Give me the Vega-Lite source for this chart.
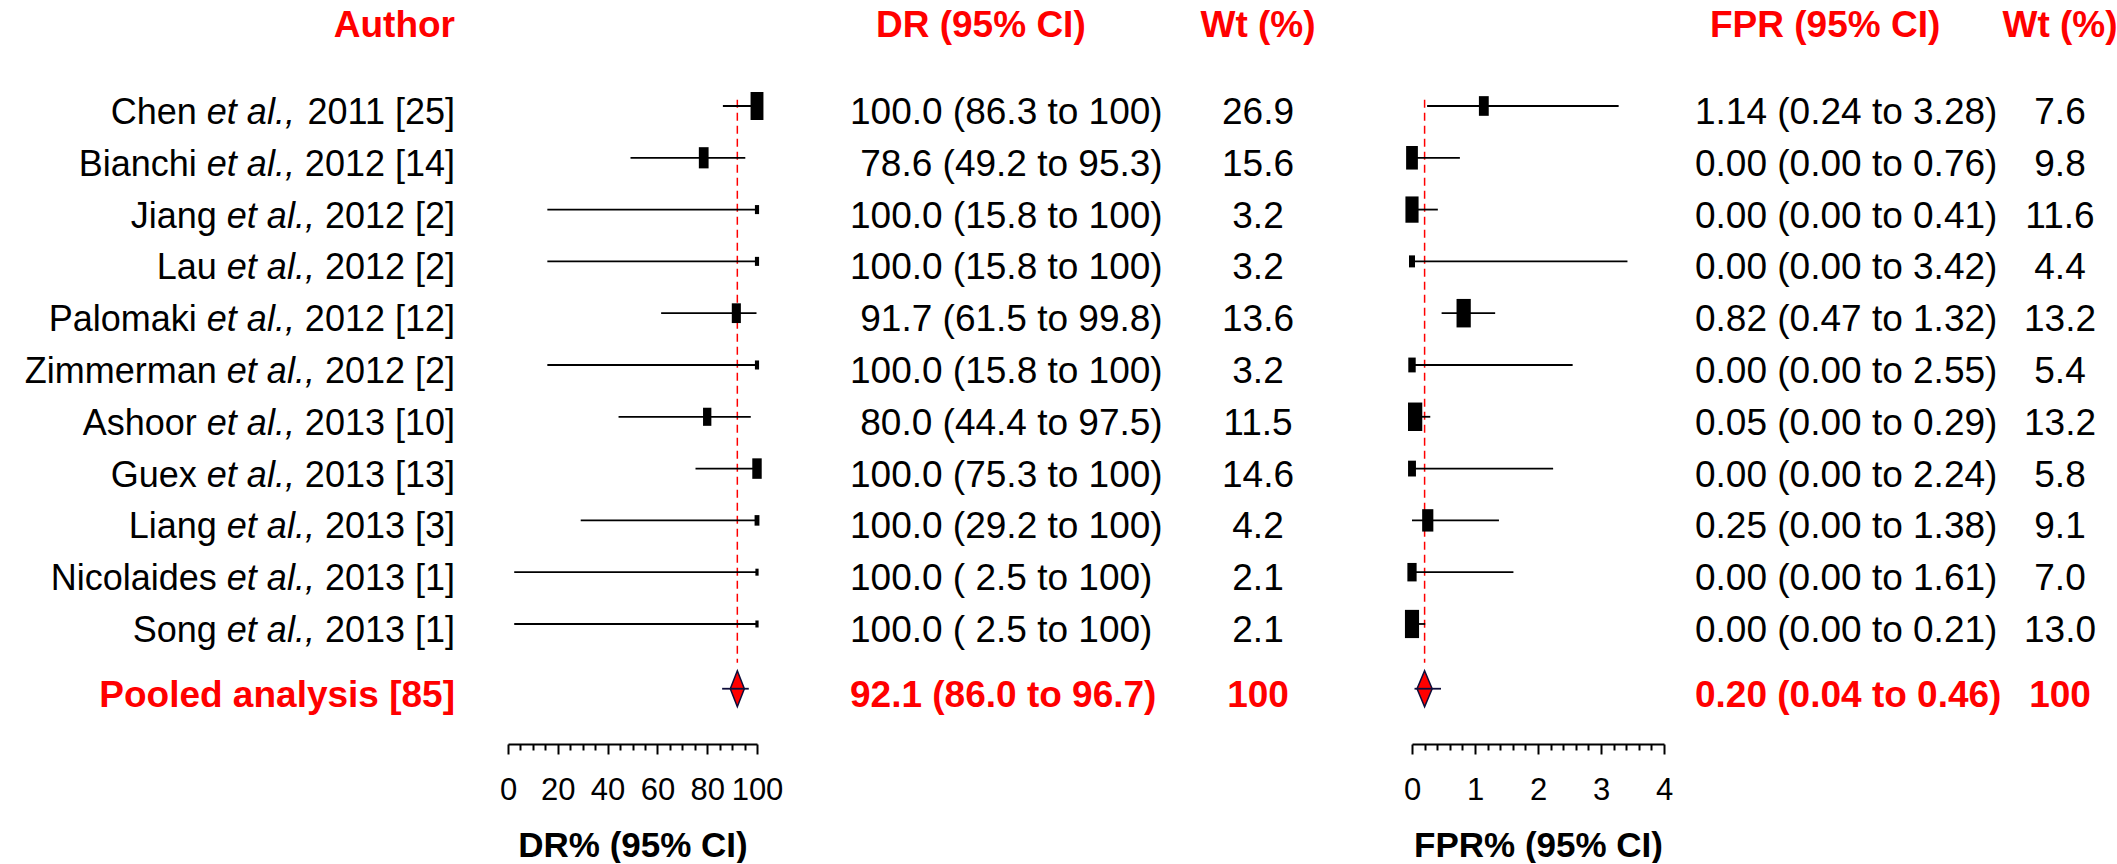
{
 "$schema": "https://vega.github.io/schema/vega-lite/v6.json",
 "padding": 0,
 "background": "white",
 "spacing": 0,
 "bounds": "flush",
 "config": {
  "view": {"stroke": null},
  "text": {"font": "Liberation Sans", "fontSize": 37, "color": "black", "baseline": "alphabetic", "dy": 18}
 },
 "resolve": {"scale": {"size": "independent"}},
 "datasets": {
  "studies": [
   {"row": 1, "name": "Chen", "cite": "2011 [25]", "ref": 25, "dr": 100, "dr_lo": 86.3, "dr_hi": 100, "dr_wt": 26.9, "dr_txt": "100.0 (86.3 to 100)", "fpr": 1.14, "fpr_lo": 0.24, "fpr_hi": 3.28, "fpr_wt": 7.6, "fpr_txt": "1.14 (0.24 to 3.28)"},
   {"row": 2, "name": "Bianchi", "cite": "2012 [14]", "ref": 14, "dr": 78.6, "dr_lo": 49.2, "dr_hi": 95.3, "dr_wt": 15.6, "dr_txt": "\u200b\u00a078.6 (49.2 to 95.3)", "fpr": 0.0, "fpr_lo": 0.0, "fpr_hi": 0.76, "fpr_wt": 9.8, "fpr_txt": "0.00 (0.00 to 0.76)"},
   {"row": 3, "name": "Jiang", "cite": "2012 [2]", "ref": 2, "dr": 100, "dr_lo": 15.8, "dr_hi": 100, "dr_wt": 3.2, "dr_txt": "100.0 (15.8 to 100)", "fpr": 0.0, "fpr_lo": 0.0, "fpr_hi": 0.41, "fpr_wt": 11.6, "fpr_txt": "0.00 (0.00 to 0.41)"},
   {"row": 4, "name": "Lau", "cite": "2012 [2]", "ref": 2, "dr": 100, "dr_lo": 15.8, "dr_hi": 100, "dr_wt": 3.2, "dr_txt": "100.0 (15.8 to 100)", "fpr": 0.0, "fpr_lo": 0.0, "fpr_hi": 3.42, "fpr_wt": 4.4, "fpr_txt": "0.00 (0.00 to 3.42)"},
   {"row": 5, "name": "Palomaki", "cite": "2012 [12]", "ref": 12, "dr": 91.7, "dr_lo": 61.5, "dr_hi": 99.8, "dr_wt": 13.6, "dr_txt": "\u200b\u00a091.7 (61.5 to 99.8)", "fpr": 0.82, "fpr_lo": 0.47, "fpr_hi": 1.32, "fpr_wt": 13.2, "fpr_txt": "0.82 (0.47 to 1.32)"},
   {"row": 6, "name": "Zimmerman", "cite": "2012 [2]", "ref": 2, "dr": 100, "dr_lo": 15.8, "dr_hi": 100, "dr_wt": 3.2, "dr_txt": "100.0 (15.8 to 100)", "fpr": 0.0, "fpr_lo": 0.0, "fpr_hi": 2.55, "fpr_wt": 5.4, "fpr_txt": "0.00 (0.00 to 2.55)"},
   {"row": 7, "name": "Ashoor", "cite": "2013 [10]", "ref": 10, "dr": 80.0, "dr_lo": 44.4, "dr_hi": 97.5, "dr_wt": 11.5, "dr_txt": "\u200b\u00a080.0 (44.4 to 97.5)", "fpr": 0.05, "fpr_lo": 0.0, "fpr_hi": 0.29, "fpr_wt": 13.2, "fpr_txt": "0.05 (0.00 to 0.29)"},
   {"row": 8, "name": "Guex", "cite": "2013 [13]", "ref": 13, "dr": 100, "dr_lo": 75.3, "dr_hi": 100, "dr_wt": 14.6, "dr_txt": "100.0 (75.3 to 100)", "fpr": 0.0, "fpr_lo": 0.0, "fpr_hi": 2.24, "fpr_wt": 5.8, "fpr_txt": "0.00 (0.00 to 2.24)"},
   {"row": 9, "name": "Liang", "cite": "2013 [3]", "ref": 3, "dr": 100, "dr_lo": 29.2, "dr_hi": 100, "dr_wt": 4.2, "dr_txt": "100.0 (29.2 to 100)", "fpr": 0.25, "fpr_lo": 0.0, "fpr_hi": 1.38, "fpr_wt": 9.1, "fpr_txt": "0.25 (0.00 to 1.38)"},
   {"row": 10, "name": "Nicolaides", "cite": "2013 [1]", "ref": 1, "dr": 100, "dr_lo": 2.5, "dr_hi": 100, "dr_wt": 2.1, "dr_txt": "100.0 ( 2.5 to 100)", "fpr": 0.0, "fpr_lo": 0.0, "fpr_hi": 1.61, "fpr_wt": 7.0, "fpr_txt": "0.00 (0.00 to 1.61)"},
   {"row": 11, "name": "Song", "cite": "2013 [1]", "ref": 1, "dr": 100, "dr_lo": 2.5, "dr_hi": 100, "dr_wt": 2.1, "dr_txt": "100.0 ( 2.5 to 100)", "fpr": 0.0, "fpr_lo": 0.0, "fpr_hi": 0.21, "fpr_wt": 13.0, "fpr_txt": "0.00 (0.00 to 0.21)"}
  ],
  "pooled": [
   {"row": 12.25, "label": "Pooled analysis [85]", "dr": 92.1, "dr_lo": 86.0, "dr_hi": 96.7, "dr_txt": "92.1 (86.0 to 96.7)", "wt": "100", "fpr": 0.20, "fpr_lo": 0.04, "fpr_hi": 0.46, "fpr_txt": "0.20 (0.04 to 0.46)"}
  ]
 },
 "hconcat": [
  {
   "width": 455, "height": 744,
   "data": {"name": "studies"},
   "layer": [
    {"data": {"values": [{"h": "Author"}]}, "mark": {"type": "text", "align": "right", "fontWeight": "bold", "color": "#ff0000"},
     "encoding": {"x": {"value": "width"}, "y": {"datum": -0.68, "type": "quantitative", "scale": {"domain": [-1.046, 13.317], "reverse": true, "nice": false, "zero": false}, "axis": null}, "text": {"field": "h"}}},
    {"mark": {"type": "text", "align": "right", "fontSize": 36},
     "encoding": {"x": {"value": "width"}, "y": {"field": "row", "type": "quantitative", "axis": null}, "text": {"field": "cite"}}},
    {"transform": [{"filter": "datum.ref >= 10"}], "mark": {"type": "text", "align": "right", "fontSize": 36, "fontStyle": "italic", "dx": -160.1},
     "encoding": {"x": {"value": "width"}, "y": {"field": "row", "type": "quantitative", "axis": null}, "text": {"value": "et al.,"}}},
    {"transform": [{"filter": "datum.ref < 10"}], "mark": {"type": "text", "align": "right", "fontSize": 36, "fontStyle": "italic", "dx": -140.1},
     "encoding": {"x": {"value": "width"}, "y": {"field": "row", "type": "quantitative", "axis": null}, "text": {"value": "et al.,"}}},
    {"transform": [{"filter": "datum.ref >= 10"}], "mark": {"type": "text", "align": "right", "fontSize": 36, "dx": -258.2},
     "encoding": {"x": {"value": "width"}, "y": {"field": "row", "type": "quantitative", "axis": null}, "text": {"field": "name"}}},
    {"transform": [{"filter": "datum.ref < 10"}], "mark": {"type": "text", "align": "right", "fontSize": 36, "dx": -238.2},
     "encoding": {"x": {"value": "width"}, "y": {"field": "row", "type": "quantitative", "axis": null}, "text": {"field": "name"}}},
    {"data": {"name": "pooled"}, "mark": {"type": "text", "align": "right", "fontWeight": "bold", "color": "#ff0000"},
     "encoding": {"x": {"value": "width"}, "y": {"field": "row", "type": "quantitative", "axis": null}, "text": {"field": "label"}}}
   ]
  },
  {"width": 53, "height": 744, "data": {"values": []}, "mark": "point"},
  {
   "width": 249, "height": 744,
   "layer": [
    {"data": {"name": "pooled"}, "mark": {"type": "rule", "color": "#ff0000", "strokeWidth": 1.5, "strokeDash": [8, 5]},
     "encoding": {
      "x": {"field": "dr", "type": "quantitative", "scale": {"domain": [0, 100], "nice": false, "zero": false},
       "axis": {"title": "DR% (95% CI)", "values": [0,5,10,15,20,25,30,35,40,45,50,55,60,65,70,75,80,85,90,95,100], "tickCount": 200,
        "labelExpr": "datum.value % 20 === 0 ? format(datum.value, 'd') : ''",
        "tickSize": {"condition": {"test": "datum.value % 20 === 0", "value": 10}, "value": 6},
        "tickColor": "black", "tickWidth": 2, "domainColor": "black", "domainWidth": 2, "grid": false,
        "labelFont": "Liberation Sans", "labelFontSize": 31, "labelColor": "black", "labelPadding": 21,
        "labelOverlap": false, "labelFlush": false, "labelBound": false,
        "titleFont": "Liberation Sans", "titleFontSize": 35, "titleFontWeight": "bold", "titleColor": "black", "titlePadding": 23}},
      "y": {"datum": 0.88, "type": "quantitative", "scale": {"domain": [-1.046, 13.317], "reverse": true, "nice": false, "zero": false}, "axis": null},
      "y2": {"datum": 11.75}}},
    {"data": {"name": "studies"}, "mark": {"type": "rule", "color": "black", "strokeWidth": 1.8},
     "encoding": {"x": {"field": "dr_lo", "type": "quantitative"}, "x2": {"field": "dr_hi"}, "y": {"field": "row", "type": "quantitative", "axis": null}}},
    {"data": {"name": "studies"}, "mark": {"type": "point", "shape": "M-0.46,-1H0.46V1H-0.46Z", "filled": true, "color": "black", "opacity": 1},
     "encoding": {"x": {"field": "dr", "type": "quantitative"}, "y": {"field": "row", "type": "quantitative", "axis": null},
      "size": {"field": "dr_wt", "type": "quantitative", "scale": {"type": "linear", "domain": [2.1, 26.9], "range": [49, 784], "zero": false}, "legend": null}}},
    {"data": {"name": "pooled"}, "mark": {"type": "point", "shape": "M0,-1L0.39,0L0,1L-0.39,0Z", "filled": true, "fill": "#ff0000", "stroke": "#0d0d3a", "strokeWidth": 1.5, "size": 1296, "opacity": 1},
     "encoding": {"x": {"field": "dr", "type": "quantitative"}, "y": {"field": "row", "type": "quantitative", "axis": null}}},
    {"data": {"name": "pooled"}, "mark": {"type": "rule", "color": "#0d0d3a", "strokeWidth": 1.8},
     "encoding": {"x": {"field": "dr_lo", "type": "quantitative"}, "x2": {"field": "dr_hi"}, "y": {"field": "row", "type": "quantitative", "axis": null}}}
   ]
  },
  {"width": 93, "height": 744, "data": {"values": []}, "mark": "point"},
  {
   "width": 358, "height": 744,
   "layer": [
    {"data": {"values": [{"h": "DR (95% CI)"}]}, "mark": {"type": "text", "align": "left", "fontWeight": "bold", "color": "#ff0000", "dx": 26},
     "encoding": {"x": {"value": 0}, "y": {"datum": -0.68, "type": "quantitative", "scale": {"domain": [-1.046, 13.317], "reverse": true, "nice": false, "zero": false}, "axis": null}, "text": {"field": "h"}}},
    {"data": {"name": "studies"}, "mark": {"type": "text", "align": "left"},
     "encoding": {"x": {"value": 0}, "y": {"field": "row", "type": "quantitative", "axis": null}, "text": {"field": "dr_txt"}}},
    {"data": {"name": "pooled"}, "mark": {"type": "text", "align": "left", "fontWeight": "bold", "color": "#ff0000"},
     "encoding": {"x": {"value": 0}, "y": {"field": "row", "type": "quantitative", "axis": null}, "text": {"field": "dr_txt"}}}
   ]
  },
  {
   "width": 100, "height": 744,
   "layer": [
    {"data": {"values": [{"h": "Wt (%)"}]}, "mark": {"type": "text", "align": "center", "fontWeight": "bold", "color": "#ff0000"},
     "encoding": {"y": {"datum": -0.68, "type": "quantitative", "scale": {"domain": [-1.046, 13.317], "reverse": true, "nice": false, "zero": false}, "axis": null}, "text": {"field": "h"}}},
    {"data": {"name": "studies"}, "mark": {"type": "text", "align": "center"},
     "encoding": {"y": {"field": "row", "type": "quantitative", "axis": null}, "text": {"field": "dr_wt", "type": "quantitative", "format": ".1f"}}},
    {"data": {"name": "pooled"}, "mark": {"type": "text", "align": "center", "fontWeight": "bold", "color": "#ff0000"},
     "encoding": {"y": {"field": "row", "type": "quantitative", "axis": null}, "text": {"field": "wt"}}}
   ]
  },
  {"width": 104, "height": 744, "data": {"values": []}, "mark": "point"},
  {
   "width": 252, "height": 744,
   "layer": [
    {"data": {"name": "pooled"}, "mark": {"type": "rule", "color": "#ff0000", "strokeWidth": 1.5, "strokeDash": [8, 5]},
     "encoding": {
      "x": {"field": "fpr", "type": "quantitative", "scale": {"domain": [0, 4], "nice": false, "zero": false},
       "axis": {"title": "FPR% (95% CI)", "values": [0,0.2,0.4,0.6,0.8,1,1.2,1.4,1.6,1.8,2,2.2,2.4,2.6,2.8,3,3.2,3.4,3.6,3.8,4], "tickCount": 200,
        "labelExpr": "abs(datum.value - round(datum.value)) < 0.001 ? format(datum.value, 'd') : ''",
        "tickSize": {"condition": {"test": "abs(datum.value - round(datum.value)) < 0.001", "value": 10}, "value": 6},
        "tickColor": "black", "tickWidth": 2, "domainColor": "black", "domainWidth": 2, "grid": false,
        "labelFont": "Liberation Sans", "labelFontSize": 31, "labelColor": "black", "labelPadding": 21,
        "labelOverlap": false, "labelFlush": false, "labelBound": false,
        "titleFont": "Liberation Sans", "titleFontSize": 35, "titleFontWeight": "bold", "titleColor": "black", "titlePadding": 23}},
      "y": {"datum": 0.88, "type": "quantitative", "scale": {"domain": [-1.046, 13.317], "reverse": true, "nice": false, "zero": false}, "axis": null},
      "y2": {"datum": 11.75}}},
    {"data": {"name": "studies"}, "mark": {"type": "rule", "color": "black", "strokeWidth": 1.8},
     "encoding": {"x": {"field": "fpr_lo", "type": "quantitative"}, "x2": {"field": "fpr_hi"}, "y": {"field": "row", "type": "quantitative", "axis": null}}},
    {"data": {"name": "studies"}, "mark": {"type": "point", "shape": "M-0.5,-1H0.5V1H-0.5Z", "filled": true, "color": "black", "opacity": 1},
     "encoding": {"x": {"field": "fpr", "type": "quantitative"}, "y": {"field": "row", "type": "quantitative", "axis": null},
      "size": {"field": "fpr_wt", "type": "quantitative", "scale": {"type": "linear", "domain": [4.4, 13.2], "range": [144, 812], "zero": false}, "legend": null}}},
    {"data": {"name": "pooled"}, "mark": {"type": "point", "shape": "M0,-1L0.42,0L0,1L-0.42,0Z", "filled": true, "fill": "#ff0000", "stroke": "#0d0d3a", "strokeWidth": 1.5, "size": 1296, "opacity": 1},
     "encoding": {"x": {"field": "fpr", "type": "quantitative"}, "y": {"field": "row", "type": "quantitative", "axis": null}}},
    {"data": {"name": "pooled"}, "mark": {"type": "rule", "color": "#0d0d3a", "strokeWidth": 1.8},
     "encoding": {"x": {"field": "fpr_lo", "type": "quantitative"}, "x2": {"field": "fpr_hi"}, "y": {"field": "row", "type": "quantitative", "axis": null}}}
   ]
  },
  {"width": 31, "height": 744, "data": {"values": []}, "mark": "point"},
  {
   "width": 315, "height": 744,
   "layer": [
    {"data": {"values": [{"h": "FPR (95% CI)"}]}, "mark": {"type": "text", "align": "left", "fontWeight": "bold", "color": "#ff0000", "dx": 15},
     "encoding": {"x": {"value": 0}, "y": {"datum": -0.68, "type": "quantitative", "scale": {"domain": [-1.046, 13.317], "reverse": true, "nice": false, "zero": false}, "axis": null}, "text": {"field": "h"}}},
    {"data": {"name": "studies"}, "mark": {"type": "text", "align": "left"},
     "encoding": {"x": {"value": 0}, "y": {"field": "row", "type": "quantitative", "axis": null}, "text": {"field": "fpr_txt"}}},
    {"data": {"name": "pooled"}, "mark": {"type": "text", "align": "left", "fontWeight": "bold", "color": "#ff0000"},
     "encoding": {"x": {"value": 0}, "y": {"field": "row", "type": "quantitative", "axis": null}, "text": {"field": "fpr_txt"}}}
   ]
  },
  {
   "width": 100, "height": 744,
   "layer": [
    {"data": {"values": [{"h": "Wt (%)"}]}, "mark": {"type": "text", "align": "center", "fontWeight": "bold", "color": "#ff0000"},
     "encoding": {"y": {"datum": -0.68, "type": "quantitative", "scale": {"domain": [-1.046, 13.317], "reverse": true, "nice": false, "zero": false}, "axis": null}, "text": {"field": "h"}}},
    {"data": {"name": "studies"}, "mark": {"type": "text", "align": "center"},
     "encoding": {"y": {"field": "row", "type": "quantitative", "axis": null}, "text": {"field": "fpr_wt", "type": "quantitative", "format": ".1f"}}},
    {"data": {"name": "pooled"}, "mark": {"type": "text", "align": "center", "fontWeight": "bold", "color": "#ff0000"},
     "encoding": {"y": {"field": "row", "type": "quantitative", "axis": null}, "text": {"field": "wt"}}}
   ]
  }
 ]
}
